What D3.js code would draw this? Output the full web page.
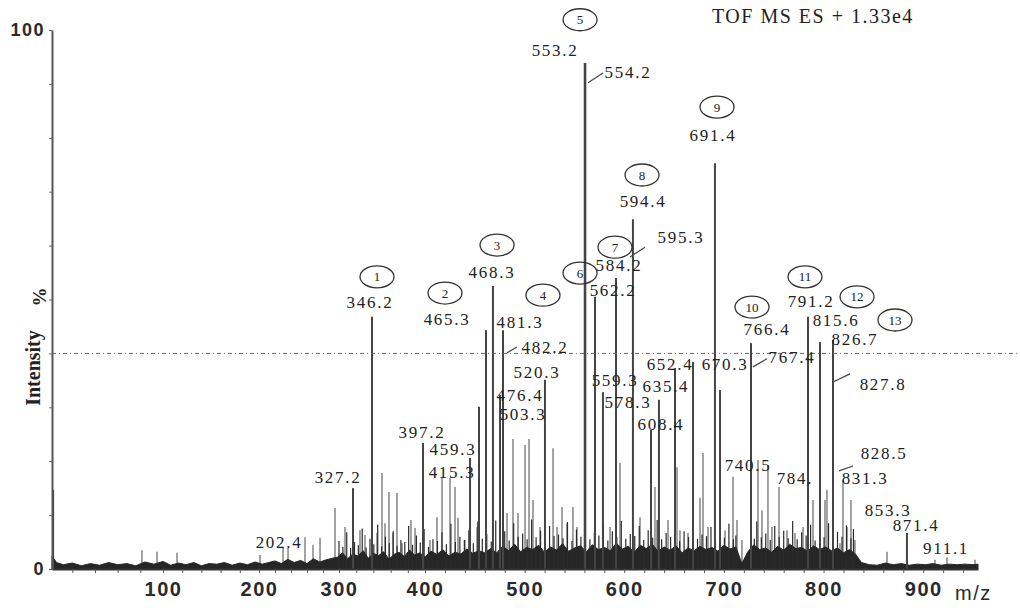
<!DOCTYPE html>
<html>
<head>
<meta charset="utf-8">
<script src="https://cdn.jsdelivr.net/npm/d3@7"></script>
<style>
  body { margin: 0; background: #fff; }
  svg { display: block; }
  .serif { font-family: "Liberation Serif", "Times New Roman", serif; }
  .sans { font-family: "Liberation Sans", Arial, sans-serif; }
</style>
</head>
<body>
<div id="chart"></div>
<script>
// ---- data (m/z, intensity %) ----
// calibration of the m/z axis as printed (the scan is not evenly spaced)
var mzKnots = [2, 100, 200, 300, 400, 955];
var mzTickLabels = [100, 200, 300, 400, 500, 600, 700, 800, 900];
var pctTickLabels = [0, 100];

// dark labelled sticks
var mainPeaks = [
  [3, 14.7], [316.3, 15.0], [338.4, 46.8], [397.7, 23.4], [445.2, 20.6], [454.2, 30.1],
  [461.2, 44.3], [468.2, 52.5], [475.3, 32.3], [478.3, 44.3], [520.4, 35.1],
  [560.6, 93.9], [570.6, 50.5], [578.6, 32.8], [591.7, 54.0], [608.7, 64.9],
  [626.8, 25.8], [634.8, 31.4], [650.9, 37.3], [669.0, 38.4], [691.0, 75.3],
  [696.1, 33.2], [727.2, 41.9], [784.4, 46.8], [796.4, 42.1], [809.5, 42.5], [883.7, 6.7]
];

// lighter sticks
var minorPeaks = [
  [81.4, 3.5], [94.7, 3.2], [114.6, 3.0], [201.3, 2.6], [230, 4.1], [236.3, 3.9],
  [257.5, 5.9], [267.5, 4.5], [276.3, 5.8], [295, 11.3],
  [307.0, 7.8], [324.4, 7.2], [330.2, 6.3], [344.2, 6.7], [350.0, 17.8], [353.5, 8.5],
  [358.1, 14.3], [362.8, 6.7], [367.4, 14.1], [373.3, 4.8], [383.7, 9.1], [388.4, 7.6],
  [405.0, 5.4], [412.0, 9.6], [417.1, 17.1], [425.1, 16.9], [430.1, 15.2], [433.1, 9.5],
  [440.1, 5.4], [452.2, 7.8], [482.3, 10.4], [488.3, 24.1], [493.3, 10.4], [500.4, 23.0],
  [504.4, 24.1], [508.4, 12.8], [515.4, 7.8], [528.5, 22.4], [532.5, 7.8], [537.5, 11.5],
  [542.5, 8.5], [548.5, 11.5], [552.5, 7.8], [585.7, 7.8], [595.7, 19.7], [615.8, 9.6],
  [630.8, 15.2], [643.9, 9.1], [652.9, 18.9], [655.9, 7.2], [663.9, 6.7], [676.0, 13.2],
  [679.0, 21.5], [684.0, 7.8], [701.1, 7.2], [709.1, 17.1], [713.1, 9.1], [718.1, 5.4],
  [734.2, 20.2], [738.2, 10.9], [744.2, 19.3], [748.2, 7.8], [755.3, 15.2], [763.3, 7.2],
  [771.3, 6.7], [779.4, 7.8], [789.4, 12.8], [801.4, 12.8], [803.4, 14.7], [816.5, 4.8],
  [819.5, 16.5], [823.5, 7.8], [827.5, 12.8], [831.5, 5.4], [863.7, 3.2], [911.8, 1.7],
  [923.9, 2.2], [952, 1.7]
];

// short black spikes inside the grass
var grassSpikes = [
  [300, 5.2], [304.5, 4.1], [309, 6.8], [313.5, 3.9], [318, 5.0], [322.5, 4.4], [327, 7.5], [331.5, 4.0],
  [336, 5.6], [340.5, 4.6], [345, 8.2], [349.5, 4.2], [354, 6.0], [358.5, 4.8], [363, 7.0], [367.5, 4.3],
  [372, 5.4], [376.5, 5.0], [381, 8.0], [385.5, 4.5], [390, 6.2], [394.5, 4.9], [399, 7.4], [403.5, 4.1],
  [408, 5.5], [412.5, 5.2], [417, 6.8], [421.5, 4.6], [426, 8.4], [430.5, 5.0], [435, 6.0], [439.5, 5.4],
  [444, 7.2], [448.5, 4.8], [453, 8.8], [457.5, 5.6], [462, 6.5], [466.5, 5.1], [471, 9.0], [475.5, 5.8],
  [480, 7.0], [484.5, 5.3], [489, 8.5], [493.5, 6.0], [498, 6.6], [502.5, 5.5], [507, 9.2], [511.5, 5.9],
  [516, 7.1], [520.5, 5.4], [525, 8.0], [529.5, 6.1], [534, 6.4], [538.5, 5.7], [543, 8.7], [547.5, 5.2],
  [552, 7.3], [556.5, 6.0], [561, 9.0], [565.5, 5.5], [570, 6.8], [574.5, 6.2], [579, 8.2], [583.5, 5.3],
  [588, 7.0], [592.5, 5.9], [597, 8.9], [601.5, 5.6], [606, 6.5], [610.5, 6.1], [615, 8.0], [619.5, 5.4],
  [624, 7.2], [628.5, 5.8], [633, 9.1], [637.5, 5.5], [642, 6.7], [646.5, 6.0], [651, 8.3], [655.5, 5.2],
  [660, 7.0], [664.5, 5.9], [669, 8.6], [673.5, 5.6], [678, 6.4], [682.5, 6.1], [687, 7.8], [691.5, 5.3],
  [696, 6.9], [700.5, 5.8], [705, 8.4], [709.5, 5.5], [712, 6.2], [727, 7.5], [730.5, 5.6], [733, 8.8],
  [737.5, 5.9], [742, 6.6], [746.5, 5.4], [751, 8.0], [755.5, 6.0], [760, 7.1], [764.5, 5.7], [769, 8.9],
  [773.5, 5.5], [778, 6.8], [782.5, 6.2], [787, 8.2], [791.5, 5.3], [796, 7.0], [800.5, 5.9], [805, 8.5],
  [809.5, 5.6], [814, 6.9], [818.5, 6.0], [823, 8.1], [827.5, 5.7], [830, 7.4]
];

// baseline grass
var baselineNoise = [
  [2, 2.4], [6, 1.2], [12, 0.8], [20, 1.1], [28, 0.6], [36, 1.0], [44, 0.7], [52, 1.2],
  [60, 0.8], [68, 1.0], [76, 0.6], [84, 1.3], [92, 0.9], [100, 1.4], [108, 0.7], [116, 1.1],
  [124, 0.8], [132, 1.2], [140, 0.6], [148, 1.0], [156, 0.9], [164, 1.2], [172, 0.7], [180, 1.1],
  [188, 0.8], [196, 1.3], [204, 0.9], [212, 1.2], [220, 1.5], [228, 1.0], [236, 1.8], [244, 1.2],
  [252, 1.6], [260, 1.0], [268, 1.9], [276, 1.3], [284, 1.7], [292, 2.0],
  [298, 2.2], [304, 3.0], [310, 1.9], [316, 2.8], [322, 2.4], [328, 3.4], [334, 2.0], [340, 2.9],
  [346, 2.5], [352, 3.2], [358, 1.8], [364, 2.7], [370, 3.1], [376, 2.3], [382, 3.5], [388, 2.6],
  [394, 3.0], [400, 2.2], [406, 3.3], [412, 2.7], [418, 3.6], [424, 2.4], [430, 3.1], [436, 2.8],
  [442, 3.7], [448, 2.9], [454, 3.4], [460, 3.0],
  [466, 3.8], [472, 3.0], [478, 4.2], [484, 3.4], [490, 4.6], [496, 3.2], [502, 4.0], [508, 3.6],
  [514, 4.4], [520, 3.1], [526, 4.1], [532, 3.5], [538, 4.7], [544, 3.3], [550, 3.9], [556, 4.3],
  [562, 3.2], [568, 4.5], [574, 3.6], [580, 4.0], [586, 3.4], [592, 4.8], [598, 3.7], [604, 4.2],
  [610, 3.1], [616, 4.4], [622, 3.8], [628, 4.6], [634, 3.3], [640, 4.1], [646, 3.5], [652, 4.3],
  [658, 3.0], [664, 3.9], [670, 3.4], [676, 4.2], [682, 3.6], [688, 4.0], [694, 3.3], [700, 4.4],
  [706, 3.7], [712, 4.1], [718, 1.0], [724, 3.2], [730, 4.5], [736, 3.6], [742, 3.9], [748, 3.1],
  [754, 4.2], [760, 3.5], [766, 4.6], [772, 3.8], [778, 4.0], [784, 3.3], [790, 4.3], [796, 3.6],
  [802, 4.1], [808, 3.4], [814, 3.9], [820, 3.0], [826, 3.6], [832, 2.8],
  [838, 1.2], [846, 0.8], [854, 0.7], [862, 1.1], [870, 0.8], [878, 1.0], [886, 0.7], [894, 0.9],
  [902, 0.8], [910, 1.0], [918, 0.7], [926, 0.9], [934, 0.8], [942, 0.9], [950, 0.8], [955, 0.9]
];

// m/z labels: text, m/z, % (text anchor)
var peakLabels = [
  ["327.2", 298.8, 16.0], ["346.2", 336.0, 48.4], ["397.2", 396.5, 24.3], ["459.3", 428.1, 21.2],
  ["415.3", 427.1, 16.9], ["465.3", 422.1, 45.3], ["468.3", 467.2, 54.0], ["481.3", 495.3, 44.7],
  ["482.2", 520.4, 40.1], ["476.4", 495.3, 31.2], ["503.3", 498.4, 27.6], ["520.3", 512.4, 35.4],
  ["553.2", 530.5, 95.2], ["554.2", 603.7, 91.1], ["562.2", 588.7, 50.6], ["584.2", 594.7, 55.3],
  ["595.3", 656.9, 60.5], ["594.4", 618.8, 67.2], ["559.3", 590.7, 34.0], ["578.3", 603.7, 29.9],
  ["608.4", 636.8, 25.8], ["635.4", 641.8, 32.8], ["652.4", 645.9, 36.9], ["670.3", 701.1, 36.9],
  ["691.4", 689.0, 79.4], ["766.4", 743.2, 43.4], ["767.4", 768.3, 38.2], ["740.5", 724.2, 18.2],
  ["784.", 771.3, 15.8], ["791.2", 787.4, 48.7], ["815.6", 812.5, 45.0], ["826.7", 831.5, 41.5],
  ["827.8", 859.7, 33.2], ["828.5", 860.7, 20.4], ["831.3", 841.6, 15.8], ["853.3", 864.7, 9.9],
  ["871.4", 892.8, 7.0], ["911.1", 922.9, 2.8], ["202.4", 225.0, 3.9]
];

// ringed compound numbers
var compoundMarks = [
  ["1", 344.2, 54.2], ["2", 420.1, 51.2], ["3", 472.3, 60.1], ["4", 518.4, 50.8],
  ["5", 555.6, 101.9], ["6", 555.6, 54.9], ["7", 590.7, 59.7], ["8", 617.8, 73.1],
  ["9", 693.1, 85.7], ["10", 728.2, 48.6], ["11", 781.4, 54.2], ["12", 833.6, 50.5],
  ["13", 871.7, 46.2]
];

// leader ticks from a stick to its label
var leaders = [
  [563.6, 90.2, 578.6, 92.0], [482.3, 40.1, 492.3, 41.2], [605.7, 57.9, 620.8, 59.7],
  [729.2, 37.5, 743.2, 39.0], [809.5, 34.7, 826.5, 36.2], [815.5, 18.2, 829.6, 19.1]
];

var threshold = 40;

// ---- drawing ----
var width = 1020, height = 608;
var svg = d3.select("#chart").append("svg").attr("width", width).attr("height", height);

var x = d3.scaleLinear().domain(mzKnots).range([52, 163, 259, 339, 425, 978]);
var y = d3.scaleLinear().domain([0, 100]).range([569, 30]);

function stick(g, data, color, w) {
  g.selectAll("line").data(data).enter().append("line")
    .attr("x1", function(d){ return x(d[0]); }).attr("x2", function(d){ return x(d[0]); })
    .attr("y1", y(0)).attr("y2", function(d){ return y(d[1]); })
    .attr("stroke", color).attr("stroke-width", w);
}

// grey sticks go behind the grass
stick(svg.append("g"), minorPeaks, "#8c8c8c", 1.6);

var area = d3.area().x(function(d){ return x(d[0]); }).y0(y(0)).y1(function(d){ return y(d[1]); });
svg.append("path").datum(baselineNoise).attr("d", area)
  .attr("fill", "#262626").attr("stroke", "#262626").attr("stroke-width", 1);

stick(svg.append("g"), grassSpikes, "#2a2a2a", 1.2);

svg.append("g").selectAll("line").data(mainPeaks).enter().append("line")
  .attr("x1", function(d){ return x(d[0]); }).attr("x2", function(d){ return x(d[0]); })
  .attr("y1", y(0)).attr("y2", function(d){ return y(d[1]); })
  .attr("stroke", "#444").attr("stroke-width", function(d){ return d[1] > 90 ? 2.6 : 2; });

// dash-dot threshold
svg.append("line")
  .attr("x1", x(mzKnots[0])).attr("x2", width)
  .attr("y1", y(threshold)).attr("y2", y(threshold))
  .attr("stroke", "#666").attr("stroke-width", 1).attr("stroke-dasharray", "4,3,1,3");

// axes
var xAxis = d3.axisBottom(x)
  .tickValues(d3.range(20, 955, 20))
  .tickSize(4).tickSizeOuter(0).tickPadding(9)
  .tickFormat(function(d){ return mzTickLabels.indexOf(d) >= 0 ? d : ""; });
var gx = svg.append("g").attr("transform", "translate(0," + y(0) + ")").call(xAxis);
gx.select(".domain").attr("stroke", "#333").attr("stroke-width", 2);
gx.selectAll(".tick line").attr("stroke", "#555");
gx.selectAll("text").attr("class", "sans").attr("font-size", 20).attr("font-weight", "bold")
  .attr("letter-spacing", 1.5).attr("fill", "#2a2a2a");

var yAxis = d3.axisLeft(y).tickValues(d3.range(0, 101, 10)).tickSize(3).tickSizeOuter(0).tickPadding(4)
  .tickFormat(function(d){ return pctTickLabels.indexOf(d) >= 0 ? d : ""; });
var gy = svg.append("g").attr("transform", "translate(" + x(mzKnots[0]) + ",0)").call(yAxis);
gy.select(".domain").attr("stroke", "#555").attr("stroke-width", 2);
gy.selectAll(".tick line").attr("stroke", "#666");
gy.selectAll("text").attr("class", "sans").attr("font-size", 18).attr("font-weight", "bold")
  .attr("letter-spacing", 1.5).attr("fill", "#2a2a2a");

// axis titles
svg.append("text").attr("class", "serif").attr("font-weight", "bold").attr("font-size", 20)
  .attr("fill", "#222").attr("text-anchor", "middle")
  .attr("transform", "translate(40,368) rotate(-90)").text("Intensity");
svg.append("text").attr("class", "serif").attr("font-weight", "bold").attr("font-size", 19)
  .attr("fill", "#222").attr("text-anchor", "middle")
  .attr("transform", "translate(46,297) rotate(-90)").text("%");
svg.append("text").attr("class", "sans").attr("font-size", 20).attr("letter-spacing", 1.5)
  .attr("fill", "#2a2a2a").attr("x", 955).attr("y", 600).text("m/z");

svg.append("text").attr("class", "serif").attr("font-size", 20).attr("letter-spacing", 1.5)
  .attr("fill", "#222").attr("x", 712).attr("y", 23).text("TOF MS ES + 1.33e4");

// leaders
svg.append("g").selectAll("line").data(leaders).enter().append("line")
  .attr("x1", function(d){ return x(d[0]); }).attr("y1", function(d){ return y(d[1]); })
  .attr("x2", function(d){ return x(d[2]); }).attr("y2", function(d){ return y(d[3]); })
  .attr("stroke", "#444").attr("stroke-width", 1.2);

// peak labels
svg.append("g").selectAll("text").data(peakLabels).enter().append("text")
  .attr("class", "serif").attr("font-size", 17).attr("letter-spacing", 1.7)
  .attr("fill", "#222").attr("text-anchor", "middle")
  .attr("x", function(d){ return x(d[1]); }).attr("y", function(d){ return y(d[2]); })
  .text(function(d){ return d[0]; });

// ringed numbers
var rings = svg.append("g").selectAll("g").data(compoundMarks).enter().append("g")
  .attr("transform", function(d){ return "translate(" + x(d[1]) + "," + y(d[2]) + ")"; });
rings.append("ellipse").attr("rx", 17).attr("ry", 11)
  .attr("fill", "none").attr("stroke", "#333").attr("stroke-width", 1.3);
rings.append("text").attr("class", "serif").attr("font-size", 13).attr("fill", "#222")
  .attr("text-anchor", "middle").attr("dy", "0.35em").text(function(d){ return d[0]; });
</script>
</body>
</html>
